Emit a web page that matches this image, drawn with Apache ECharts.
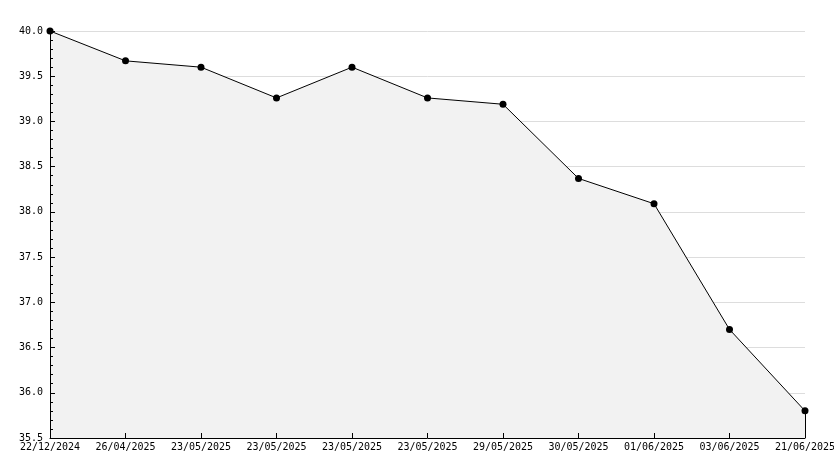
<!DOCTYPE html>
<html><head><meta charset="utf-8">
<script src="https://cdn.jsdelivr.net/npm/echarts@6/dist/echarts.min.js"></script>
<style>html,body{margin:0;padding:0;background:#fff}#c{width:834px;height:468px}</style>
</head><body><div id="c"></div>
<script>
const categories = ['22/12/2024','26/04/2025','23/05/2025','23/05/2025','23/05/2025','23/05/2025','29/05/2025','30/05/2025','01/06/2025','03/06/2025','21/06/2025'];
const values = [40.0, 39.67, 39.60, 39.26, 39.60, 39.26, 39.19, 38.37, 38.09, 36.70, 35.80];
const yMin = 35.5, yMax = 40.0, yStep = 0.5;

const chart = echarts.init(document.getElementById('c'), null, {renderer:'canvas'});
const font = 'DejaVu Sans Mono';
chart.setOption({
  animation:false,
  backgroundColor:'#fff',
  grid:{left:50,right:29,top:31,bottom:30,containLabel:false,outerBoundsMode:'none'},
  xAxis:{
    type:'category', data:categories, boundaryGap:false, z:10,
    axisLine:{lineStyle:{color:'#000',width:1}},
    axisTick:{inside:true,length:5,lineStyle:{color:'#000'}},
    axisLabel:{color:'#000',fontFamily:font,fontSize:10,margin:4,interval:0,hideOverlap:false},
    splitLine:{show:false}
  },
  yAxis:[{
    type:'value', min:yMin, max:yMax, interval:yStep, z:0,
    axisLine:{show:false}, axisTick:{show:false}, axisLabel:{show:false},
    splitLine:{show:true,lineStyle:{color:'#dddddd',width:1}}
  },{
    type:'value', min:yMin, max:yMax, interval:yStep, position:'left', z:10,
    axisLine:{show:true,lineStyle:{color:'#000',width:1}},
    axisTick:{show:true,inside:true,length:5,lineStyle:{color:'#000'}},
    minorTick:{show:true,splitNumber:5,length:3,lineStyle:{color:'#000'}},
    axisLabel:{color:'#000',fontFamily:font,fontSize:10,margin:7,formatter:v=>v.toFixed(1)},
    splitLine:{show:false}
  }],
  series:[{
    type:'line', data:values, yAxisIndex:1, z:3,
    symbol:'circle', symbolSize:7,
    itemStyle:{color:'#000'},
    lineStyle:{color:'#000',width:1},
    areaStyle:{color:'#f2f2f2',opacity:1,origin:'start'},
    markLine:{
      silent:true, symbol:'none', label:{show:false},
      lineStyle:{color:'#000',width:1,type:'solid'},
      data:[[{coord:[categories.length-1, values[values.length-1]]},{coord:[categories.length-1, yMin]}]]
    }
  }]
});
</script></body></html>
